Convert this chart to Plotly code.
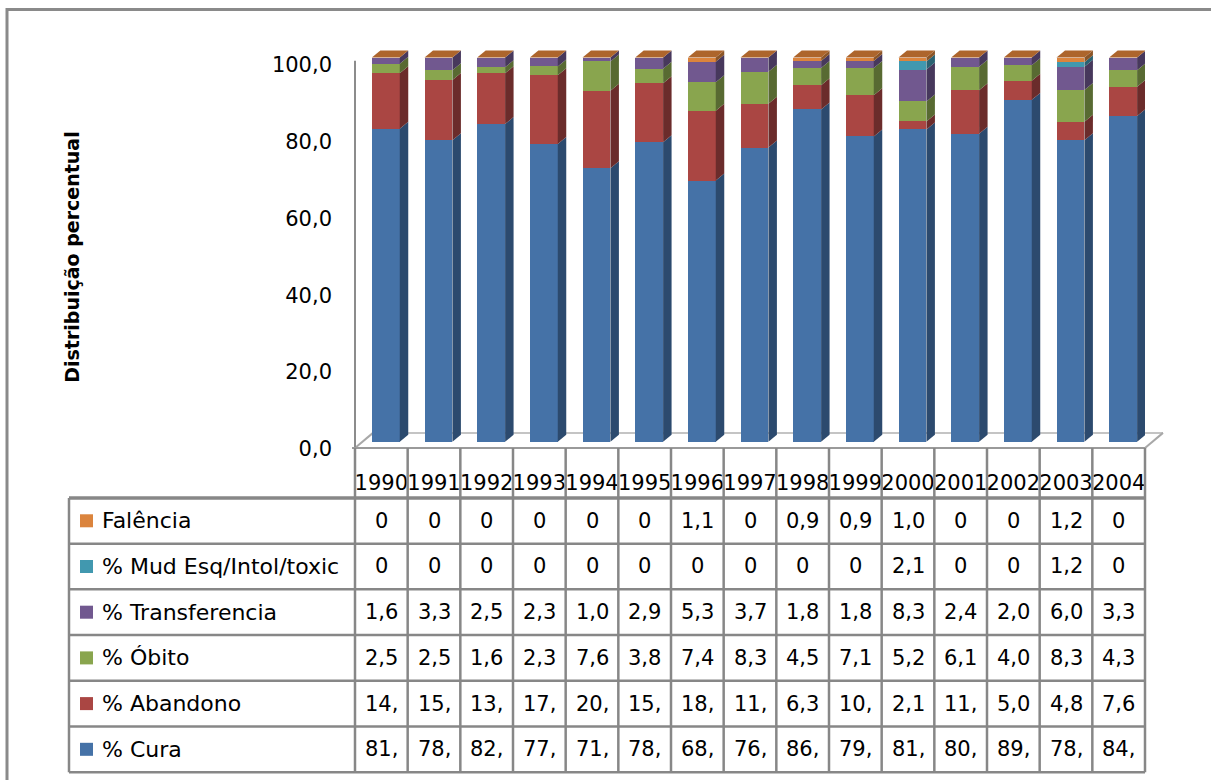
import plotly.graph_objects as go

# Ano de cada coorte
anos = ["1990", "1991", "1992", "1993", "1994", "1995", "1996", "1997",
        "1998", "1999", "2000", "2001", "2002", "2003", "2004"]

# Distribuição percentual do encerramento por ano
cura = [81.5, 78.5, 82.7, 77.5, 71.2, 78.0, 68.0, 76.6, 86.5, 79.5, 81.3, 80.2, 89.0, 78.5, 84.8]
abandono = [14.4, 15.7, 13.2, 17.9, 20.2, 15.3, 18.2, 11.4, 6.3, 10.7, 2.1, 11.3, 5.0, 4.8, 7.6]
obito = [2.5, 2.5, 1.6, 2.3, 7.6, 3.8, 7.4, 8.3, 4.5, 7.1, 5.2, 6.1, 4.0, 8.3, 4.3]
transferencia = [1.6, 3.3, 2.5, 2.3, 1.0, 2.9, 5.3, 3.7, 1.8, 1.8, 8.3, 2.4, 2.0, 6.0, 3.3]
mud_esq = [0, 0, 0, 0, 0, 0, 0, 0, 0, 0, 2.1, 0, 0, 1.2, 0]
falencia = [0, 0, 0, 0, 0, 0, 1.1, 0, 0.9, 0.9, 1.0, 0, 0, 1.2, 0]

# (rótulo, valores, cor frontal, cor lateral) na ordem de empilhamento
series = [
    ("% Cura", cura, "#4572A7", "#2C4A6E"),
    ("% Abandono", abandono, "#AA4643", "#6B2C2B"),
    ("% Óbito", obito, "#89A54E", "#586A32"),
    ("% Transferencia", transferencia, "#71588F", "#47385C"),
    ("% Mud Esq/Intol/toxic", mud_esq, "#4198AF", "#2A6272"),
    ("Falência", falencia, "#DB843D", "#8C5527"),
]
TOPO = "#AD652C"

W, H = 1211, 780
PX_L, PX_R = 355.0, 1145.0
PY_T, PY_B = 48.4, 448.1
Y0, Y1 = -1.6, 102.5
FONT = "DejaVu Sans"
GRADE = "#878787"


def px(xp):
    return (xp - PX_L) / (PX_R - PX_L)


def py(yp):
    return (PY_B - yp) / (PY_B - PY_T)


def cell_text(v):
    # células estreitas mostram só os três primeiros caracteres
    s = "0" if v == 0 else f"{v:.1f}".replace(".", ",")
    return s[:3]


idx = list(range(len(anos)))
BAR_W = 0.53
BAR_OFF = -0.18
DX, DY = 0.161, 1.82

fig = go.Figure()
for nome, vals, cor, _ in series:
    fig.add_trace(go.Bar(
        x=idx, y=vals, name=nome, width=BAR_W, offset=BAR_OFF,
        marker=dict(color=cor, line=dict(width=0)), showlegend=False,
    ))

shapes = []

# piso e parede (atrás das barras)
piso = dict(type="line", xref="paper", yref="paper", layer="below")
shapes.append({**piso, "x0": px(373), "y0": py(433), "x1": px(1163), "y1": py(433),
               "line": dict(color="#C4C4C4", width=2)})
shapes.append({**piso, "x0": px(355), "y0": py(448), "x1": px(373), "y1": py(433),
               "line": dict(color="#A8A8A8", width=2)})
shapes.append({**piso, "x0": px(1145), "y0": py(448), "x1": px(1163), "y1": py(433),
               "line": dict(color="#A8A8A8", width=2)})
shapes.append(dict(type="line", xref="paper", yref="y", layer="below",
                   x0=0, x1=0, y0=Y0, y1=99.2, line=dict(color="#8C8C8C", width=2)))

# faces laterais e topo de cada coluna
for i in idx:
    x0 = i + BAR_OFF
    x1 = x0 + BAR_W
    base = 0.0
    for _, vals, _, lado in series:
        v = vals[i]
        if v > 0:
            lo, hi = base, base + v
            shapes.append(dict(
                type="path", xref="x", yref="y", layer="above",
                path=f"M {x1},{lo} L {x1},{hi} L {x1 + DX},{hi + DY} L {x1 + DX},{lo + DY} Z",
                fillcolor=lado, line=dict(width=0),
            ))
        base += v
    shapes.append(dict(
        type="path", xref="x", yref="y", layer="above",
        path=f"M {x0},{base} L {x0 + DX},{base + DY} L {x1 + DX},{base + DY} L {x1},{base} Z",
        fillcolor=TOPO, line=dict(width=0),
    ))

# tabela de dados
ROW_TOP, ROW_H = 498.0, 45.67
n_rows = len(series)
COL_W = (PX_R - PX_L) / len(anos)
TAB_L = 69.0
TAB_B = ROW_TOP + n_rows * ROW_H
linha = dict(type="line", xref="paper", yref="paper", layer="above")
shapes.append({**linha, "x0": px(352), "x1": px(PX_R), "y0": py(448), "y1": py(448),
               "line": dict(color="#9A9A9A", width=2)})
for k in range(n_rows + 1):
    yk = ROW_TOP + k * ROW_H
    shapes.append({**linha, "x0": px(TAB_L), "x1": px(PX_R), "y0": py(yk), "y1": py(yk),
                   "line": dict(color=GRADE, width=3.5 if k == 0 else 2.5)})
shapes.append({**linha, "x0": px(TAB_L), "x1": px(TAB_L), "y0": py(ROW_TOP), "y1": py(TAB_B),
               "line": dict(color=GRADE, width=2.5)})
for k in range(len(anos) + 1):
    xk = PX_L + k * COL_W
    shapes.append({**linha, "x0": px(xk), "x1": px(xk), "y0": py(448), "y1": py(TAB_B),
                   "line": dict(color=GRADE, width=2.5)})

annotations = []
for r, (nome, vals, cor, _) in enumerate(reversed(series)):
    yc = ROW_TOP + (r + 0.5) * ROW_H
    shapes.append(dict(type="rect", xref="paper", yref="paper",
                       x0=px(80), x1=px(93), y0=py(yc + 6.5), y1=py(yc - 6.5),
                       fillcolor=cor, line=dict(width=0)))
    annotations.append(dict(xref="paper", yref="paper", x=px(100), y=py(yc),
                            xanchor="left", yanchor="middle", showarrow=False,
                            text=nome, font=dict(family=FONT, size=22, color="#000")))
    for i in idx:
        annotations.append(dict(xref="x", yref="paper", x=i, y=py(yc),
                                xanchor="center", yanchor="middle", showarrow=False,
                                text=cell_text(vals[i]),
                                font=dict(family=FONT, size=21, color="#000")))

annotations.append(dict(xref="paper", yref="paper", x=px(72), y=py(258),
                        textangle=-90, showarrow=False, xanchor="center", yanchor="middle",
                        text="Distribuição percentual",
                        font=dict(family=FONT, size=19, color="#000", weight="bold")))

# moldura do gráfico
shapes.append(dict(type="rect", xref="paper", yref="paper", layer="above",
                   x0=px(7), x1=px(1230), y0=py(10), y1=py(800),
                   line=dict(color="#8A8A8A", width=3), fillcolor="rgba(0,0,0,0)"))

fig.update_layout(
    width=W, height=H,
    margin=dict(l=PX_L, r=W - PX_R, t=PY_T, b=H - PY_B, pad=0),
    barmode="stack",
    bargap=0,
    separators=",.",
    paper_bgcolor="white", plot_bgcolor="white",
    font=dict(family=FONT, size=21, color="#000"),
    xaxis=dict(range=[-0.5, len(anos) - 0.5], tickvals=idx, ticktext=anos,
               tickangle=0, showgrid=False, zeroline=False, showline=False,
               ticks="", ticklabelstandoff=20,
               tickfont=dict(family=FONT, size=21, color="#000")),
    yaxis=dict(range=[Y0, Y1], tickvals=[0, 20, 40, 60, 80, 100], tickformat=".1f",
               showgrid=False, zeroline=False, showline=False, ticks="",
               ticklabelstandoff=22, ticklabelshift=7,
               tickfont=dict(family=FONT, size=21, color="#000")),
    shapes=shapes,
    annotations=annotations,
)

fig.write_html("out.html")
